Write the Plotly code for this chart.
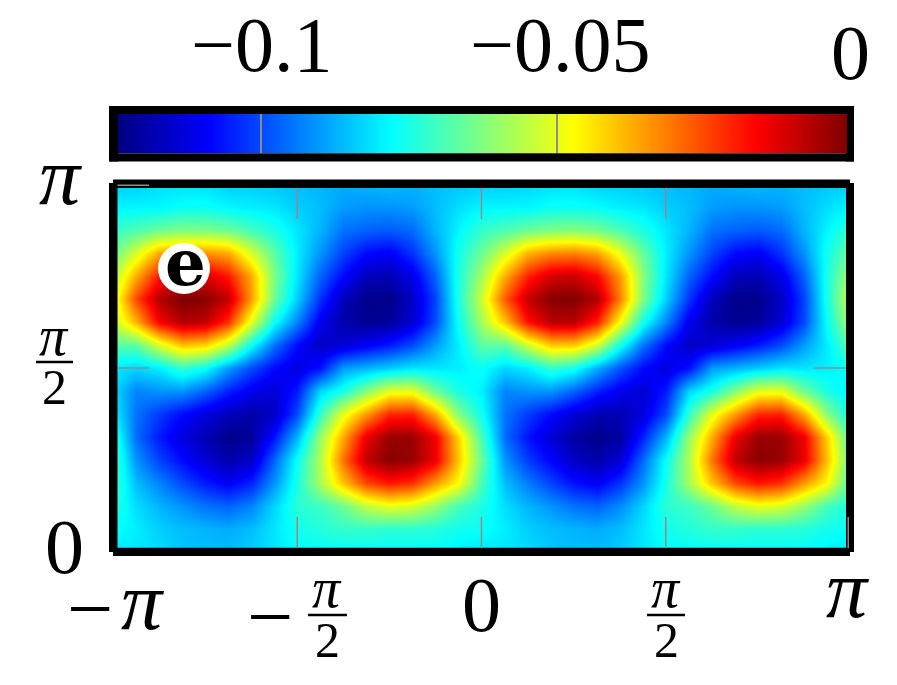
import math
import plotly.graph_objects as go

# la pagina ha un margine di 8 px attorno al grafico
PAGE_W, PAGE_H, BODY = 897, 685, 8
W, H = PAGE_W - 2 * BODY, PAGE_H - 2 * BODY

# values, in thousandths, rows go from y=pi down to y=0
z_rows = [
    [-84, -84, -82, -82, -82, -84, -84, -85, -86, -87, -88, -87, -86, -87, -86, -85, -84, -84, -83, -82, -82, -84, -84, -85, -86, -87, -88, -87, -86, -87, -86, -85, -84],
    [-79, -79, -79, -77, -77, -79, -80, -81, -84, -86, -90, -91, -91, -90, -86, -82, -79, -79, -79, -77, -77, -78, -80, -81, -84, -86, -90, -91, -91, -90, -86, -82, -79],
    [-72, -69, -65, -63, -63, -65, -70, -75, -81, -87, -95, -97, -98, -96, -87, -79, -72, -69, -65, -63, -62, -64, -69, -75, -81, -87, -95, -97, -98, -96, -87, -79, -72],
    [-66, -52, -37, -34, -34, -37, -52, -67, -80, -91, -101, -108, -110, -103, -91, -76, -65, -52, -38, -33, -32, -36, -50, -66, -80, -91, -101, -108, -110, -103, -91, -76, -65],
    [-58, -37, -19, -12, -12, -19, -37, -63, -81, -97, -108, -117, -118, -112, -97, -75, -58, -37, -20, -11, -10, -17, -35, -62, -81, -97, -108, -117, -118, -112, -97, -75, -58],
    [-53, -25, -7, -1, -2, -9, -35, -65, -84, -103, -117, -123, -123, -116, -101, -75, -53, -27, -9, -2, -1, -7, -32, -63, -84, -103, -117, -123, -123, -116, -101, -75, -53],
    [-56, -38, -16, -7, -9, -22, -50, -77, -93, -111, -119, -122, -121, -114, -100, -77, -58, -40, -18, -8, -8, -20, -48, -76, -93, -111, -119, -122, -121, -114, -100, -77, -58],
    [-68, -67, -52, -40, -42, -55, -77, -95, -108, -116, -114, -110, -106, -100, -90, -80, -67, -67, -53, -41, -41, -53, -76, -95, -108, -116, -114, -110, -106, -100, -90, -80, -67],
    [-80, -83, -80, -72, -77, -90, -100, -108, -113, -107, -90, -87, -84, -81, -81, -80, -77, -83, -80, -72, -76, -88, -99, -108, -113, -107, -90, -87, -84, -81, -81, -80, -77],
    [-82, -93, -91, -91, -97, -105, -111, -114, -106, -83, -75, -62, -50, -50, -65, -75, -80, -93, -91, -91, -97, -105, -111, -114, -106, -83, -75, -62, -50, -50, -65, -75, -80],
    [-79, -95, -102, -108, -113, -117, -119, -116, -100, -72, -50, -35, -21, -20, -37, -62, -77, -95, -102, -108, -114, -118, -118, -113, -100, -72, -50, -35, -21, -20, -37, -62, -77],
    [-72, -96, -106, -113, -118, -123, -121, -107, -87, -60, -37, -14, -4, -4, -15, -42, -70, -96, -107, -114, -120, -123, -120, -105, -87, -60, -37, -14, -4, -4, -15, -42, -70],
    [-69, -91, -101, -108, -114, -119, -116, -97, -77, -57, -30, -9, -2, -4, -14, -40, -66, -91, -102, -109, -116, -119, -114, -96, -77, -57, -30, -9, -2, -4, -14, -40, -66],
    [-70, -86, -93, -100, -106, -110, -105, -91, -75, -58, -40, -25, -19, -22, -35, -47, -70, -86, -94, -101, -107, -110, -103, -91, -75, -58, -40, -25, -19, -22, -35, -47, -70],
    [-73, -82, -87, -91, -95, -97, -93, -83, -73, -71, -65, -55, -50, -52, -60, -70, -75, -82, -87, -91, -95, -97, -92, -83, -73, -71, -65, -55, -50, -52, -60, -70, -75],
    [-77, -80, -84, -86, -87, -88, -86, -81, -76, -74, -72, -72, -73, -73, -74, -76, -77, -80, -84, -86, -87, -88, -86, -81, -76, -74, -72, -72, -73, -73, -74, -76, -77],
    [-81, -81, -82, -85, -86, -86, -84, -81, -78, -78, -78, -78, -78, -78, -78, -80, -81, -81, -82, -85, -86, -86, -84, -81, -78, -78, -78, -78, -78, -78, -78, -80, -81],
]

x_vals = [-math.pi + i * math.pi / 16 for i in range(33)]
y_vals = [i * math.pi / 16 for i in range(17)]
x_ticks = [-math.pi / 2, 0, math.pi / 2]
y_ticks = [math.pi / 2]
bar_ticks = [-0.1, -0.05]
z_low = -0.1243
z_high = -0.001

jet = [
    [0, "rgb(0,0,128)"],
    [0.125, "rgb(0,0,255)"],
    [0.375, "rgb(0,255,255)"],
    [0.625, "rgb(255,255,0)"],
    [0.875, "rgb(255,0,0)"],
    [1, "rgb(128,0,0)"],
]

SERIF = "Liberation Serif"
GRAY = "#8c8c8c"


def px(x):
    return (x - BODY) / W


def py(y):
    return 1 - (y - BODY) / H


def box(x0, y0, x1, y1, color="black"):
    # rettangolo in pixel della pagina
    return dict(type="rect", xref="paper", yref="paper", x0=px(x0), x1=px(x1),
                y0=py(y0), y1=py(y1), fillcolor=color, line_width=0, layer="above")


def label(x, y, text, size):
    return dict(xref="paper", yref="paper", x=px(x), y=py(y), text=text, showarrow=False,
                xanchor="center", yanchor="middle",
                font=dict(family=SERIF, size=size, color="black"))


fig = go.Figure(go.Heatmap(
    x=x_vals,
    y=y_vals,
    z=[[v / 1000 for v in row] for row in z_rows[::-1]],
    zmin=z_low,
    zmax=z_high,
    zsmooth="best",
    colorscale=jet,
    hoverinfo="skip",
    colorbar=dict(
        orientation="h",
        x=px(117.5), xanchor="left", xpad=0,
        y=py(114.3), yanchor="top", ypad=0,
        len=728.5, lenmode="pixels",
        thickness=39, thicknessmode="pixels",
        outlinewidth=0, borderwidth=0,
        tickvals=bar_ticks,
        ticks="inside", ticklen=39, tickwidth=1.5, tickcolor=GRAY,
        showticklabels=False,
    ),
))

shapes = [
    # cornice del grafico
    box(113, 179.5, 850, 188),
    box(113, 547.7, 850, 556),
    box(109, 183, 117.5, 552),
    box(846, 183, 854, 552),
    # cornice della colorbar
    box(109, 106, 854, 114.5),
    box(109, 153.2, 854, 161.5),
    box(109, 106, 118.5, 161.5),
    box(846, 106, 854, 161.5),
]

# tacche grigie, sopra la cornice
for v in x_ticks:
    for a, b in [(0.01, 0.095), (0.99, 0.905)]:
        shapes.append(dict(type="line", xref="x", yref="y domain", x0=v, x1=v, y0=a, y1=b,
                           line=dict(color=GRAY, width=1.5), layer="above"))
shapes.append(dict(type="line", xref="x", yref="y domain", x0=math.pi - 0.015, x1=math.pi - 0.015,
                   y0=0.01, y1=0.095, line=dict(color=GRAY, width=1.5), layer="above"))
for v in y_ticks:
    for a, b in [(0.006, 0.049), (0.994, 0.951)]:
        shapes.append(dict(type="line", xref="x domain", yref="y", x0=a, x1=b, y0=v, y1=v,
                           line=dict(color=GRAY, width=1.5), layer="above"))
shapes.append(dict(type="line", xref="x domain", yref="y", x0=0.006, x1=0.049, y0=math.pi - 0.01, y1=math.pi - 0.01,
                   line=dict(color=GRAY, width=1.5), layer="above"))

# sfondo bianco della lettera e barre delle frazioni
shapes.append(dict(type="circle", xref="paper", yref="paper", x0=px(158), x1=px(210), y0=py(294), y1=py(243),
                   fillcolor="white", line_width=0, layer="above"))
for x0, x1, y in [(36, 73, 362), (308, 347, 615), (647, 685, 615)]:
    shapes.append(box(x0, y - 1.3, x1, y + 1.3))

annotations = [
    label(262, 44, "\u22120.1", 78),
    label(560, 44, "\u22120.05", 78),
    label(850, 52, "0", 78),
    label(60, 176, "<i>\u03c0</i>", 82),
    label(54, 335.5, "<i>\u03c0</i>", 56),
    label(54, 386.5, "2", 50),
    label(64, 546.5, "0", 78),
    label(90, 608, "\u2212", 82),
    label(142, 601, "<i>\u03c0</i>", 82),
    label(269.5, 616, "\u2212", 82),
    label(327, 587.5, "<i>\u03c0</i>", 56),
    label(327, 639.5, "2", 50),
    label(481, 604.5, "0", 78),
    label(666, 587.5, "<i>\u03c0</i>", 56),
    label(666, 639.5, "2", 50),
    label(847, 589, "<i>\u03c0</i>", 82),
    dict(xref="paper", yref="paper", x=px(185), y=py(262), text="e", showarrow=False,
         xanchor="center", yanchor="middle",
         font=dict(family="DejaVu Serif", size=64, color="black", weight="bold")),
]

fig.update_layout(
    width=W, height=H,
    margin=dict(l=0, r=0, t=0, b=0, autoexpand=False),
    paper_bgcolor="white",
    plot_bgcolor="white",
    xaxis=dict(domain=[px(113), px(850)], range=[-math.pi, math.pi], showgrid=False, zeroline=False,
               showticklabels=False, ticks=""),
    yaxis=dict(domain=[py(552), py(184)], range=[0, math.pi], showgrid=False, zeroline=False,
               showticklabels=False, ticks=""),
    shapes=shapes,
    annotations=annotations,
)

fig.write_html("out.html")
